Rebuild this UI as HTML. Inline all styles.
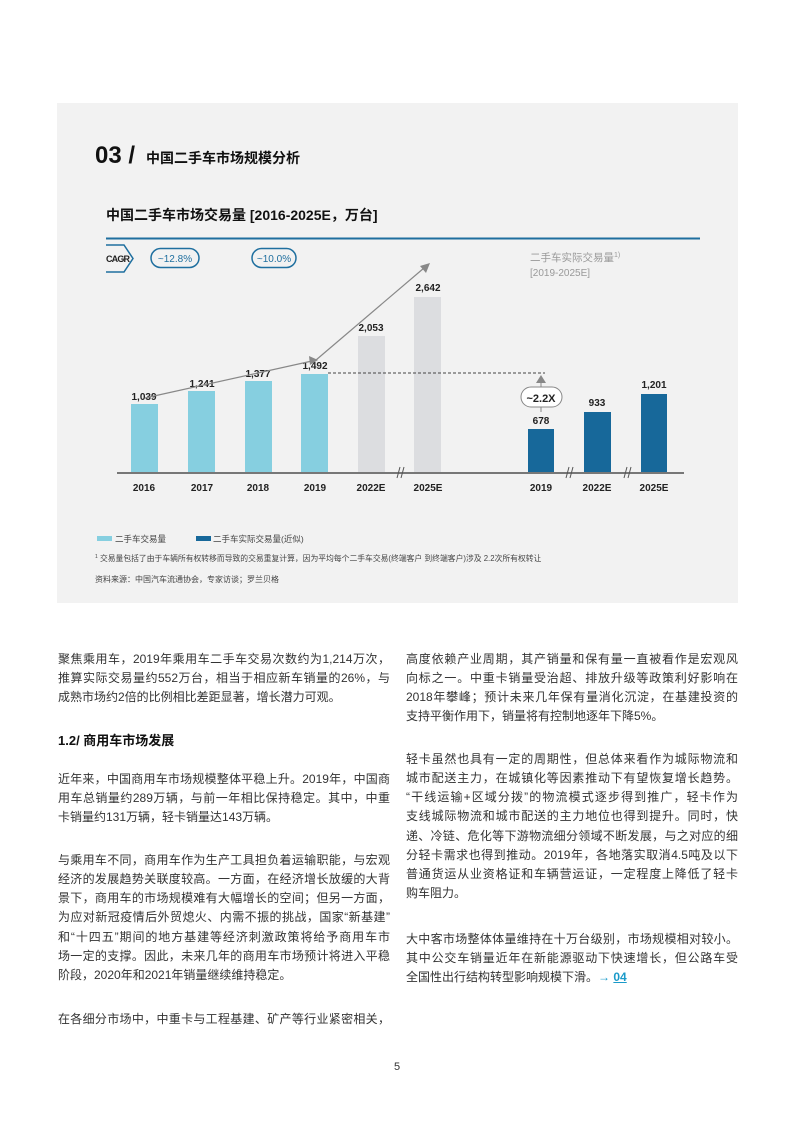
<!DOCTYPE html>
<html><head><meta charset="utf-8"><style>
*{margin:0;padding:0}
body{width:794px;height:1123px;background:#fff;position:relative;font-family:"Liberation Sans","Noto Sans CJK SC",sans-serif;color:#222;overflow:hidden}
.a{position:absolute;white-space:nowrap}
.l{position:absolute;font-size:12px;line-height:19px;height:19px;width:332px;text-align:justify;text-align-last:justify;white-space:nowrap;color:#333;overflow:visible}
.e{text-align-last:left}
</style></head><body>
<div class="a" style="left:57px;top:103px;width:681px;height:500px;background:#f2f2f2"></div>
<div class="a" style="left:95px;top:142px;font-size:24px;font-weight:bold;color:#111">03 /</div>
<div class="a" style="left:146px;top:148px;font-size:14px;font-weight:bold;color:#111">中国二手车市场规模分析</div>
<div class="a" style="left:106px;top:205px;font-size:14px;font-weight:bold;color:#111">中国二手车市场交易量 [2016-2025E，万台]</div>
<svg class="a" style="left:0;top:0" width="794" height="620">
<line x1="106" y1="238.5" x2="700" y2="238.5" stroke="#1f6f9f" stroke-width="2"/>
<polyline points="106,245 124,245 133,258.5 124,272 106,272" fill="none" stroke="#1f6f9f" stroke-width="1.5"/>
<text x="106" y="262" font-size="9" font-weight="bold" fill="#222" font-family="Liberation Sans" textLength="24">CAGR</text>
<rect x="151" y="248.5" width="48" height="19" rx="9.5" fill="none" stroke="#1f6f9f" stroke-width="1.5"/>
<text x="175" y="262" font-size="10" text-anchor="middle" fill="#1f6f9f" font-family="Liberation Sans">~12.8%</text>
<rect x="252" y="248.5" width="44" height="19" rx="9.5" fill="none" stroke="#1f6f9f" stroke-width="1.5"/>
<text x="274" y="262" font-size="10" text-anchor="middle" fill="#1f6f9f" font-family="Liberation Sans">~10.0%</text>
<text x="530" y="261" font-size="10.5" fill="#999" font-family="Liberation Sans,Noto Sans CJK SC">二手车实际交易量<tspan font-size="7" dy="-4">1)</tspan></text>
<text x="530" y="276" font-size="10" fill="#999" font-family="Liberation Sans">[2019-2025E]</text>
<g fill="#86cfe0">
<rect x="131" y="404" width="27" height="69"/><rect x="188" y="391" width="27" height="82"/><rect x="245" y="381" width="27" height="92"/><rect x="301" y="374" width="27" height="99"/></g>
<g fill="#dcdde0"><rect x="358" y="336" width="27" height="137"/><rect x="414" y="297" width="27" height="176"/></g>
<g fill="#17689a"><rect x="528" y="429" width="26" height="44"/><rect x="584" y="412" width="27" height="61"/><rect x="641" y="394" width="26" height="79"/></g>
<line x1="117" y1="473" x2="684" y2="473" stroke="#777" stroke-width="2"/>
<g stroke="#555" stroke-width="1"><line x1="397" y1="478" x2="400" y2="467"/><line x1="401" y1="478" x2="404" y2="467"/><line x1="566" y1="478" x2="569" y2="467"/><line x1="570" y1="478" x2="573" y2="467"/><line x1="624" y1="478" x2="627" y2="467"/><line x1="628" y1="478" x2="631" y2="467"/></g>
<g font-family="Liberation Sans" font-size="10" font-weight="bold" fill="#222" text-anchor="middle">
<text x="144" y="400">1,039</text><text x="202" y="387">1,241</text><text x="258" y="377">1,377</text><text x="315" y="369">1,492</text><text x="371" y="331">2,053</text><text x="428" y="291">2,642</text><text x="541" y="424">678</text><text x="597" y="406">933</text><text x="654" y="388">1,201</text>
<text x="144" y="491">2016</text><text x="202" y="491">2017</text><text x="258" y="491">2018</text><text x="315" y="491">2019</text><text x="371" y="491">2022E</text><text x="428" y="491">2025E</text><text x="541" y="491">2019</text><text x="597" y="491">2022E</text><text x="654" y="491">2025E</text></g>
<polyline points="145,398 312,361" fill="none" stroke="#888" stroke-width="1.2"/>
<polygon points="318,360 309,356 310,365" fill="#888"/>
<line x1="316" y1="360" x2="424" y2="268" stroke="#888" stroke-width="1.2"/>
<polygon points="430,263 420,266 426,273" fill="#888"/>
<line x1="328" y1="373" x2="545" y2="373" stroke="#444" stroke-dasharray="3,2" stroke-width="1"/>
<line x1="541" y1="412" x2="541" y2="382" stroke="#888" stroke-width="1"/>
<polygon points="541,375 536,383 546,383" fill="#888"/>
<rect x="521" y="387" width="41" height="20" rx="10" fill="#fff" stroke="#888"/>
<text x="541" y="402" font-family="Liberation Sans" font-size="11" font-weight="bold" text-anchor="middle" fill="#222">~2.2X</text>
<rect x="97" y="536" width="15" height="5" fill="#86cfe0"/>
<text x="115" y="542" font-size="8.5" fill="#444" font-family="Liberation Sans,Noto Sans CJK SC">二手车交易量</text>
<rect x="196" y="536" width="15" height="5" fill="#17689a"/>
<text x="213" y="542" font-size="8.5" fill="#444" font-family="Liberation Sans,Noto Sans CJK SC">二手车实际交易量(近似)</text>
<text x="95" y="561" font-size="7.8" fill="#444" font-family="Liberation Sans,Noto Sans CJK SC"><tspan font-size="5" dy="-3">1</tspan><tspan dy="3"> 交易量包括了由于车辆所有权转移而导致的交易重复计算，因为平均每个二手车交易(终端客户 到终端客户)涉及 2.2次所有权转让</tspan></text>
<text x="95" y="582" font-size="8" fill="#444" font-family="Liberation Sans,Noto Sans CJK SC">资料来源：中国汽车流通协会，专家访谈；罗兰贝格</text>
</svg>
<div class="l" style="left:58px;top:650px">聚焦乘用车，2019年乘用车二手车交易次数约为1,214万次，</div>
<div class="l" style="left:58px;top:669px">推算实际交易量约552万台，相当于相应新车销量的26%，与</div>
<div class="l e" style="left:58px;top:688px">成熟市场约2倍的比例相比差距显著，增长潜力可观。</div>
<div class="a" style="left:58px;top:730px;font-size:13px;font-weight:bold;color:#111">1.2/ 商用车市场发展</div>
<div class="l" style="left:58px;top:770px">近年来，中国商用车市场规模整体平稳上升。2019年，中国商</div>
<div class="l" style="left:58px;top:789px">用车总销量约289万辆，与前一年相比保持稳定。其中，中重</div>
<div class="l e" style="left:58px;top:808px">卡销量约131万辆，轻卡销量达143万辆。</div>
<div class="l" style="left:58px;top:851px">与乘用车不同，商用车作为生产工具担负着运输职能，与宏观</div>
<div class="l" style="left:58px;top:870px">经济的发展趋势关联度较高。一方面，在经济增长放缓的大背</div>
<div class="l" style="left:58px;top:889px">景下，商用车的市场规模难有大幅增长的空间；但另一方面，</div>
<div class="l" style="left:58px;top:908px">为应对新冠疫情后外贸熄火、内需不振的挑战，国家“新基建”</div>
<div class="l" style="left:58px;top:928px">和“十四五”期间的地方基建等经济刺激政策将给予商用车市</div>
<div class="l" style="left:58px;top:947px">场一定的支撑。因此，未来几年的商用车市场预计将进入平稳</div>
<div class="l e" style="left:58px;top:966px">阶段，2020年和2021年销量继续维持稳定。</div>
<div class="l" style="left:58px;top:1010px">在各细分市场中，中重卡与工程基建、矿产等行业紧密相关，</div>
<div class="l" style="left:406px;top:650px">高度依赖产业周期，其产销量和保有量一直被看作是宏观风</div>
<div class="l" style="left:406px;top:669px">向标之一。中重卡销量受治超、排放升级等政策利好影响在</div>
<div class="l" style="left:406px;top:688px">2018年攀峰；预计未来几年保有量消化沉淀，在基建投资的</div>
<div class="l e" style="left:406px;top:707px">支持平衡作用下，销量将有控制地逐年下降5%。</div>
<div class="l" style="left:406px;top:750px">轻卡虽然也具有一定的周期性，但总体来看作为城际物流和</div>
<div class="l" style="left:406px;top:769px">城市配送主力，在城镇化等因素推动下有望恢复增长趋势。</div>
<div class="l" style="left:406px;top:788px">“干线运输+区域分拨”的物流模式逐步得到推广，轻卡作为</div>
<div class="l" style="left:406px;top:807px">支线城际物流和城市配送的主力地位也得到提升。同时，快</div>
<div class="l" style="left:406px;top:827px">递、冷链、危化等下游物流细分领域不断发展，与之对应的细</div>
<div class="l" style="left:406px;top:846px">分轻卡需求也得到推动。2019年，各地落实取消4.5吨及以下</div>
<div class="l" style="left:406px;top:865px">普通货运从业资格证和车辆营运证，一定程度上降低了轻卡</div>
<div class="l e" style="left:406px;top:884px">购车阻力。</div>
<div class="l" style="left:406px;top:930px">大中客市场整体体量维持在十万台级别，市场规模相对较小。</div>
<div class="l" style="left:406px;top:949px">其中公交车销量近年在新能源驱动下快速增长，但公路车受</div>
<div class="l e" style="left:406px;top:968px">全国性出行结构转型影响规模下滑。<span style="color:#1a9ac9;font-weight:bold">→ <u>04</u></span></div>
<div class="a" style="left:394px;top:1061px;font-size:11px;color:#333">5</div>
</body></html>
